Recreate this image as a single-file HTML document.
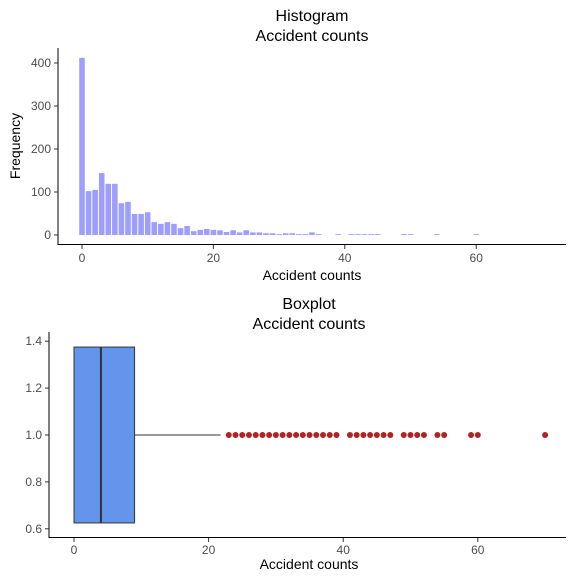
<!DOCTYPE html>
<html><head><meta charset="utf-8"><style>
body{margin:0;background:#fff;font-family:"Liberation Sans",sans-serif}
svg text{font-family:"Liberation Sans",sans-serif}
</style></head><body>
<svg id="c" width="576" height="576" xmlns="http://www.w3.org/2000/svg"></svg>
<script>
const histBins=[0,1,2,3,4,5,6,7,8,9,10,11,12,13,14,15,16,17,18,19,20,21,22,23,24,25,26,27,28,29,30,31,32,33,34,35,36,39,41,42,43,44,45,49,50,54,60];
const histCounts=[412,102,105,144,119,119,74,77,49,49,53,30,26,30,26,16,21,9,12,14,12,11,7,11,6,11,6,6,4,4,2,4,4,2,2,6,2,2,2,2,2,2,2,2,2,2,2];
const histYTicks=[0,100,200,300,400];
const histXTicks=[0,20,40,60];
const boxStats=[0,4,9,22]; // q1, median, q3, whisker end
const outliers=[23,24,25,26,27,28,29,30,31,32,33,34,35,36,37,38,39,41,42,43,44,45,46,47,49,50,51,52,54,55,59,60,70];
const boxXTicks=[0,20,40,60];
const boxYTicks=[0.6,0.8,1.0,1.2,1.4];

const svg=document.getElementById('c');
const NS='http://www.w3.org/2000/svg';
function el(t,a,p){const e=document.createElementNS(NS,t);for(const k in a)e.setAttribute(k,a[k]);(p||svg).appendChild(e);return e;}
function txt(s,a,p){const e=el('text',a,p);e.textContent=s;return e;}

// Histogram
const hx=v=>82+v*6.57, hy=v=>235-v*0.43;
const g1=el('g',{});


histBins.forEach((b,i)=>{
  const r=el('rect',{x:hx(b-0.5)+0.5,y:hy(histCounts[i]),width:6.57-1,height:235-hy(histCounts[i]),fill:'#9e9eff'},g1);
  
  
});
el('line',{x1:58,y1:48,x2:58,y2:245,stroke:'#000','stroke-width':1},g1);
el('line',{x1:58,y1:244.5,x2:566,y2:244.5,stroke:'#000','stroke-width':1},g1);
histYTicks.forEach(t=>{
  el('line',{x1:54,x2:58,y1:hy(t),y2:hy(t),stroke:'#333'},g1);
  const l=txt(t,{x:51,y:hy(t)+4,'text-anchor':'end','font-size':12,fill:'#4d4d4d'},g1);
  
});
histXTicks.forEach(t=>{
  el('line',{x1:hx(t),x2:hx(t),y1:245,y2:249,stroke:'#333'},g1);
  const l=txt(t,{x:hx(t),y:262,'text-anchor':'middle','font-size':12,fill:'#4d4d4d'},g1);
  
});
const t1=txt('Histogram',{x:312,y:21,'text-anchor':'middle','font-size':16},g1);
const t2=txt('Accident counts',{x:312,y:41,'text-anchor':'middle','font-size':16},g1);
const t3=txt('Accident counts',{x:312,y:280,'text-anchor':'middle','font-size':14},g1);
const t4=txt('Frequency',{x:20,y:146,'text-anchor':'middle','font-size':14,transform:'rotate(-90 20 146)'},g1);

// Boxplot
const bx=v=>74+v*6.73, by=v=>435-(v-1)*234.5;
const g2=el('g',{});


el('line',{x1:bx(boxStats[2]),x2:bx(boxStats[3])-1.5,y1:by(1),y2:by(1),stroke:'#333'},g2);
const box=el('rect',{x:bx(boxStats[0]),y:by(1.375),width:bx(boxStats[2])-bx(boxStats[0]),height:by(0.625)-by(1.375),fill:'#6495ed',stroke:'#333'},g2);

el('line',{x1:bx(boxStats[1]),x2:bx(boxStats[1]),y1:by(1.375),y2:by(0.625),stroke:'#333','stroke-width':2},g2);
outliers.forEach(o=>{
  const c=el('circle',{cx:bx(o),cy:by(1),r:3,fill:'#b22222'},g2);
  
  
});
el('line',{x1:49,y1:332,x2:49,y2:538,stroke:'#000'},g2);
el('line',{x1:49,y1:537.5,x2:566,y2:537.5,stroke:'#000'},g2);
boxYTicks.forEach(t=>{
  el('line',{x1:45,x2:49,y1:by(t),y2:by(t),stroke:'#333'},g2);
  const l=txt(t.toFixed(1),{x:42,y:by(t)+4,'text-anchor':'end','font-size':12,fill:'#4d4d4d'},g2);
  
});
boxXTicks.forEach(t=>{
  el('line',{x1:bx(t),x2:bx(t),y1:538,y2:542,stroke:'#333'},g2);
  const l=txt(t,{x:bx(t),y:554,'text-anchor':'middle','font-size':12,fill:'#4d4d4d'},g2);
  
});
const b1=txt('Boxplot',{x:309,y:309,'text-anchor':'middle','font-size':16},g2);
const b2=txt('Accident counts',{x:309,y:329,'text-anchor':'middle','font-size':16},g2);
const b3=txt('Accident counts',{x:309,y:569,'text-anchor':'middle','font-size':14},g2);
</script>
</body></html>
